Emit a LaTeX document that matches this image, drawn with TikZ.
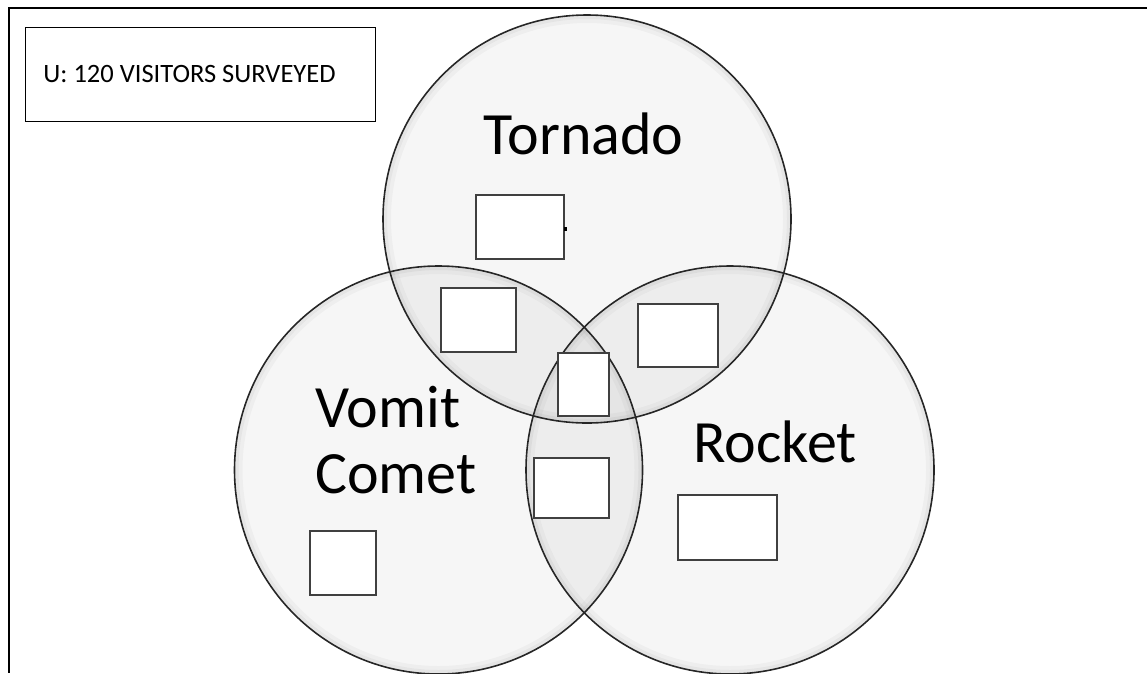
\documentclass[tikz,border=0pt]{standalone}
\usepackage{fontspec}
\setmainfont{Carlito}
\begin{document}
\begin{tikzpicture}[x=1pt,y=-1pt,
  setcircle/.style={circle, minimum size=408pt, inner sep=0pt, fill=black, fill opacity=0.035},
  rimline/.style={line width=1.6pt, draw=black!85},
  glowa/.style={line width=3pt, draw=black, draw opacity=0.07},
  glowb/.style={line width=4pt, draw=black, draw opacity=0.03},
  setlabel/.style={font=\fontsize{60}{66}\selectfont, inner sep=0pt, text=black},
  blank/.style={draw=black!75, line width=1.4pt, fill=white, inner sep=0pt},
  framestyle/.style={line width=1.8pt, draw=black}]
\useasboundingbox (0,0) rectangle (1147,673);
% frame
\coordinate (ftr) at (1147,8);
\coordinate (ftl) at (9,8);
\coordinate (fbl) at (9,673);
\draw[framestyle] (ftr) -- (ftl) -- (fbl);
% universe box
\node[draw=black, line width=1pt, minimum width=350pt, minimum height=94pt, inner sep=0pt] (univ) at (200,74) {};
\node[font=\fontsize{26.5}{30}\selectfont, inner sep=0pt, anchor=base] (utext) at (189.5,82) {U: 120 VISITORS SURVEYED};
% circles
\node[setcircle] (tornado) at (587,219) {};
\node[setcircle] (vomit) at (438.5,470) {};
\node[setcircle] (rocket) at (730,470) {};
\foreach \c in {tornado,vomit,rocket}{
  \draw[glowa] (\c.center) circle (201.5pt);
  \draw[glowb] (\c.center) circle (198pt);
  \draw[rimline] (\c.center) circle (204pt);
}
% labels
\node[setlabel, anchor=base] (tlabel) at (583.5,154) {Tornado};
\node[setlabel, anchor=base west] (vlabel1) at (315,427) {Vomit};
\node[setlabel, anchor=base west] (vlabel2) at (315,493) {Comet};
\node[setlabel, anchor=base] (rlabel) at (775,462) {Rocket};
% answer boxes
\draw[blank] (476,195) rectangle (564,259);
\fill[black] (564,227) rectangle (566.5,231);
\draw[blank] (441,288) rectangle (516,352);
\draw[blank] (558,353) rectangle (609,416);
\draw[blank] (638,304) rectangle (718,367);
\draw[blank] (534,458) rectangle (609,518);
\draw[blank] (678,495) rectangle (777,560);
\draw[blank] (310,531) rectangle (376,595);
\end{tikzpicture}
\end{document}
